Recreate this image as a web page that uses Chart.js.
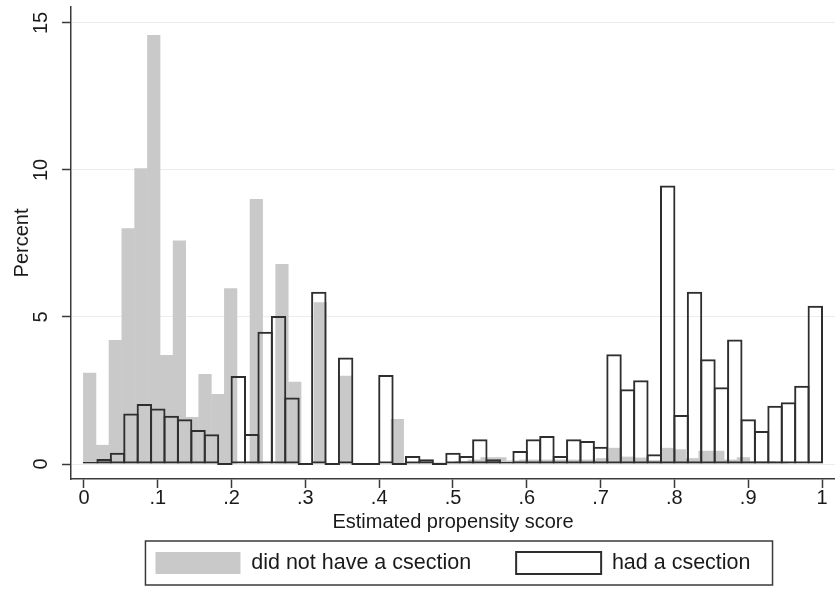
<!DOCTYPE html>
<html>
<head>
<meta charset="utf-8">
<script src="https://cdn.jsdelivr.net/npm/chart.js@4.4.1/dist/chart.umd.min.js"></script>
<style>
  html, body { margin: 0; padding: 0; background: #ffffff; }
  canvas { display: block; }
</style>
</head>
<body>
<canvas id="c" width="835" height="597"></canvas>
<script>
// ---- data ----
const xTickValues = [0, 0.1, 0.2, 0.3, 0.4, 0.5, 0.6, 0.7, 0.8, 0.9, 1];
const xTickLabels = ["0", ".1", ".2", ".3", ".4", ".5", ".6", ".7", ".8", ".9", "1"];
const yTickValues = [0, 5, 10, 15];
const yTickLabels = ["0", "5", "10", "15"];
const seriesNames = ["did not have a csection", "had a csection"];

// histogram of group without csection (55 bins)
const noCsectionBinStart = -0.001;
const noCsectionBinWidth = 0.01737;
const noCsectionPercent = [
  3.1, 0.65, 4.22, 8.02, 10.06, 14.59, 3.71, 7.6, 1.6, 3.06,
  2.38, 5.98, 0, 9.01, 0, 6.8, 2.8, 0, 5.5, 0,
  3.0, 0, 0, 0, 1.53, 0.05, 0.05, 0.05, 0.05, 0.1,
  0.15, 0.23, 0.23, 0.12, 0.15, 0.15, 0.15, 0.15, 0.15, 0.15,
  0.2, 0.55, 0.25, 0.22, 0.13, 0.55, 0.5, 0.2, 0.45, 0.45,
  0.15, 0.23, 0.1, 0.1, 0.08
];

// histogram of group with csection (55 bins)
const csectionBinStart = 0;
const csectionBinWidth = 1 / 55;
const csectionPercent = [
  0.05, 0.17, 0.38, 1.72, 2.04, 1.89, 1.64, 1.52, 1.16, 1.01,
  0, 2.99, 1.02, 4.5, 5.03, 2.26, 0, 5.86, 0, 3.62,
  0, 0, 3.03, 0, 0.27, 0.16, 0, 0.38, 0.27, 0.84,
  0.16, 0.07, 0.44, 0.84, 0.95, 0.27, 0.84, 0.78, 0.59, 3.73,
  2.54, 2.85, 0.33, 9.47, 1.67, 5.86, 3.56, 2.61, 4.23, 1.52,
  1.12, 1.98, 2.1, 2.66, 5.38
];

// ---- axis ranges ----
const xMin = -0.0176, xMax = 1.0176;
const yMin = -0.51, yMax = 15.54;

// ---- styling ----
const FONT = "'Liberation Sans', Arial, Helvetica, sans-serif";
const axisColor = '#3a3a3a';
const textColor = '#1a1a1a';
const grayFill = '#c9c9c9';

const grayData = noCsectionPercent.map((v, i) => ({ x: noCsectionBinStart + (i + 0.5) * noCsectionBinWidth, y: v }));
const whiteData = csectionPercent.map((v, i) => ({ x: csectionBinStart + (i + 0.5) * csectionBinWidth, y: v }));

const legendFrame = {
  id: 'legendFrame',
  afterDraw(chart) {
    const lg = chart.legend;
    if (!lg || !lg.legendHitBoxes || !lg.legendHitBoxes.length) return;
    const hb = lg.legendHitBoxes;
    const first = hb[0], last = hb[hb.length - 1];
    const x0 = first.left - 10, x1 = last.left + last.width + 22;
    const y0 = first.top - 11, y1 = first.top + first.height + 11;
    const ctx = chart.ctx;
    ctx.save();
    ctx.strokeStyle = axisColor;
    ctx.lineWidth = 1.5;
    ctx.strokeRect(x0, y0, x1 - x0, y1 - y0);
    ctx.restore();
  }
};

new Chart(document.getElementById('c'), {
  type: 'bar',
  data: {
    datasets: [
      {
        label: seriesNames[0],
        data: grayData,
        xAxisID: 'xg',
        yAxisID: 'y',
        backgroundColor: grayFill,
        borderWidth: 0,
        categoryPercentage: 1,
        barPercentage: 1.03,
        grouped: false,
        order: 2
      },
      {
        label: seriesNames[1],
        data: whiteData,
        xAxisID: 'x',
        yAxisID: 'y',
        backgroundColor: 'rgba(255,255,255,0)',
        borderColor: '#2e2e2e',
        borderWidth: 2,
        borderSkipped: false,
        categoryPercentage: 1,
        barPercentage: 1.15,
        minBarLength: 2,
        grouped: false,
        order: 1
      }
    ]
  },
  options: {
    responsive: false,
    animation: false,
    devicePixelRatio: 1,
    events: [],
    layout: { padding: { top: 7, right: 0, bottom: 13, left: 0 } },
    scales: {
      x: {
        type: 'linear',
        position: 'bottom',
        min: xMin, max: xMax,
        offset: false,
        afterBuildTicks: s => { s.ticks = xTickValues.map(v => ({ value: v })); },
        afterFit: s => { s.height = 28; s.paddingLeft = 0; s.paddingRight = 0; },
        ticks: {
          callback: (v, i) => xTickLabels[i],
          color: textColor,
          font: { family: FONT, size: 20, lineHeight: 1 },
          padding: 0,
          minRotation: 0, maxRotation: 0,
          autoSkip: false
        },
        grid: { offset: false, drawOnChartArea: false, drawTicks: true, tickLength: 9, tickColor: axisColor, tickWidth: 1.5 },
        border: { display: true, color: axisColor, width: 1.5 },
        title: {
          display: true,
          text: 'Estimated propensity score',
          color: textColor,
          font: { family: FONT, size: 20, lineHeight: 1.2 },
          padding: { top: 0, bottom: -27 }
        }
      },
      xg: {
        type: 'linear',
        display: false,
        position: 'bottom',
        min: xMin, max: xMax,
        offset: false,
        afterBuildTicks: s => { s.ticks = xTickValues.map(v => ({ value: v })); },
        grid: { offset: false }
      },
      y: {
        type: 'linear',
        position: 'left',
        min: yMin, max: yMax,
        afterBuildTicks: s => { s.ticks = yTickValues.map(v => ({ value: v })); },
        afterFit: s => { s.width = 71; s.paddingTop = 0; s.paddingBottom = 0; },
        ticks: {
          callback: (v, i) => yTickLabels[i],
          color: textColor,
          font: { family: FONT, size: 20, lineHeight: 1 },
          padding: 9,
          minRotation: 90,
          maxRotation: 90,
          crossAlign: 'center',
          autoSkip: false
        },
        grid: { color: '#ececec', lineWidth: 1, drawTicks: true, tickLength: 9, tickColor: axisColor, tickWidth: 1.5 },
        border: { display: true, color: axisColor, width: 1.5 },
        title: {
          display: true,
          text: 'Percent',
          color: textColor,
          font: { family: FONT, size: 20, lineHeight: 1.2 },
          padding: { top: 10, bottom: 0 }
        }
      }
    },
    plugins: {
      legend: {
        position: 'bottom',
        fullSize: false,
        align: 'center',
        labels: {
          boxWidth: 85,
          boxHeight: 22,
          padding: 45,
          color: textColor,
          font: { family: FONT, size: 21.5 },
          sort: (a, b) => a.datasetIndex - b.datasetIndex
        }
      },
      tooltip: { enabled: false },
      title: { display: false }
    }
  },
  plugins: [legendFrame]
});
</script>
</body>
</html>
